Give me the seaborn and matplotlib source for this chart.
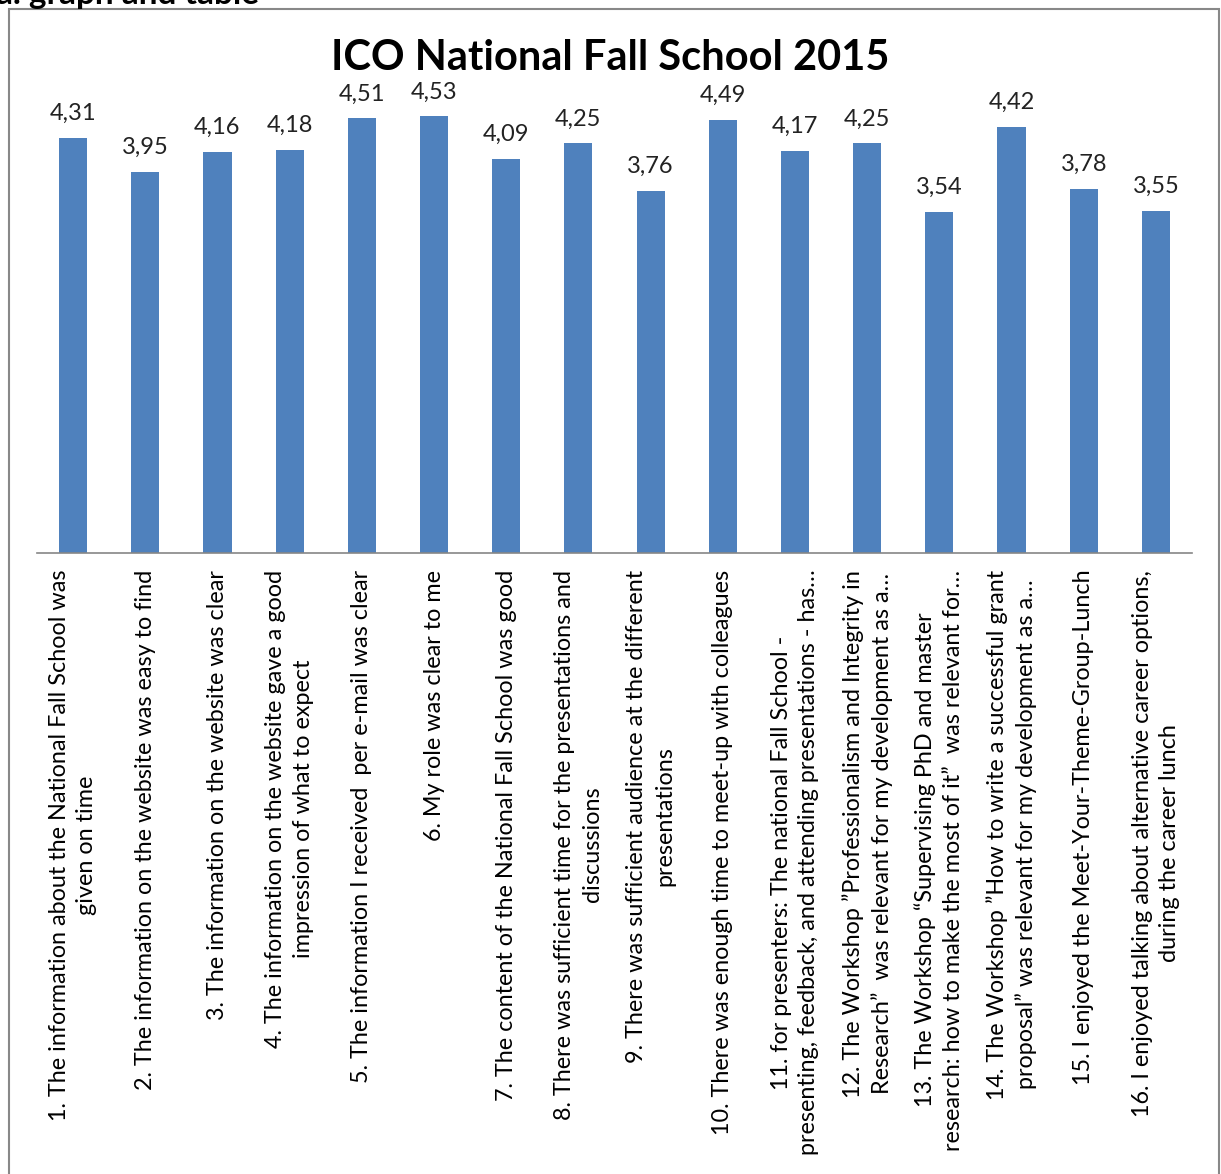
import matplotlib
matplotlib.use("Agg")
import matplotlib.pyplot as plt
import seaborn as sns
import pandas as pd
from matplotlib.patches import Rectangle

questions = [
    "1. The information about the National Fall School was\ngiven on time",
    "2. The information on the website was easy to find",
    "3. The information on the website was clear",
    "4. The information on the website gave a good\nimpression of what to expect",
    "5. The information I received  per e-mail was clear",
    "6. My role was clear to me",
    "7. The content of the National Fall School was good",
    "8. There was sufficient time for the presentations and\ndiscussions",
    "9. There was sufficient audience at the different\npresentations",
    "10. There was enough time to meet-up with colleagues",
    "11. for presenters: The national Fall School -\npresenting, feedback, and attending presentations - has…",
    "12. The Workshop \u201dProfessionalism and Integrity in\nResearch\u201d  was relevant for my development as a…",
    "13. The Workshop \u201cSupervising PhD and master\nresearch: how to make the most of it\u201d  was relevant for…",
    "14. The Workshop \u201dHow to write a successful grant\nproposal\u201d was relevant for my development as a…",
    "15. I enjoyed the Meet-Your-Theme-Group-Lunch",
    "16. I enjoyed talking about alternative career options,\nduring the career lunch",
]
scores = [4.31, 3.95, 4.16, 4.18, 4.51, 4.53, 4.09, 4.25, 3.76, 4.49,
          4.17, 4.25, 3.54, 4.42, 3.78, 3.55]
title = "ICO National Fall School 2015"

sns.set_theme(style="white")
plt.rcParams['font.family'] = ['Lato', 'DejaVu Sans']

df = pd.DataFrame({"question": questions, "score": scores})

fig = plt.figure(figsize=(12.21, 11.74), dpi=100)
ax = fig.add_axes([37/1221, 1 - 553/1174, (1192-37)/1221, (553-71)/1174])

sns.barplot(data=df, x="question", y="score", color="#4F81BD", width=0.39,
            saturation=1, ax=ax, edgecolor="none")

ax.set_ylim(0, 5)
ax.set_xlim(-0.5, len(questions) - 0.5)
ax.set_xlabel("")
ax.set_ylabel("")
ax.set_yticks([])
for s in ["top", "right", "left"]:
    ax.spines[s].set_visible(False)
ax.spines["bottom"].set_color("#868686")
ax.spines["bottom"].set_linewidth(1.2)
ax.tick_params(axis="x", length=0, pad=12)
ax.set_xticks(range(len(questions)))
ax.set_xticklabels(questions, rotation=90, ha="center", va="top",
                   multialignment="center", fontsize=16.8, color="black",
                   linespacing=1.4)

for i, v in enumerate(scores):
    ax.annotate(f"{v:.2f}".replace(".", ","), (i, v), xytext=(0, 10),
                textcoords="offset points", ha="center", va="bottom",
                fontsize=17, color="#222222")

fig.text(0.5, 1 - 58/1174, title, ha="center", va="center",
         fontsize=30, fontweight="bold", color="black")

fig.text(-0.003, 1 - 4/1174, "a. graph and table", ha="left", va="baseline",
         fontsize=24, fontweight="bold", color="black")

fig.patches.append(Rectangle((9/1221, -0.05), (1219-9)/1221, 1.05 - 9/1174,
                             transform=fig.transFigure, fill=False,
                             edgecolor="#888888", linewidth=1.5))

fig.savefig("out.png", dpi=100)
